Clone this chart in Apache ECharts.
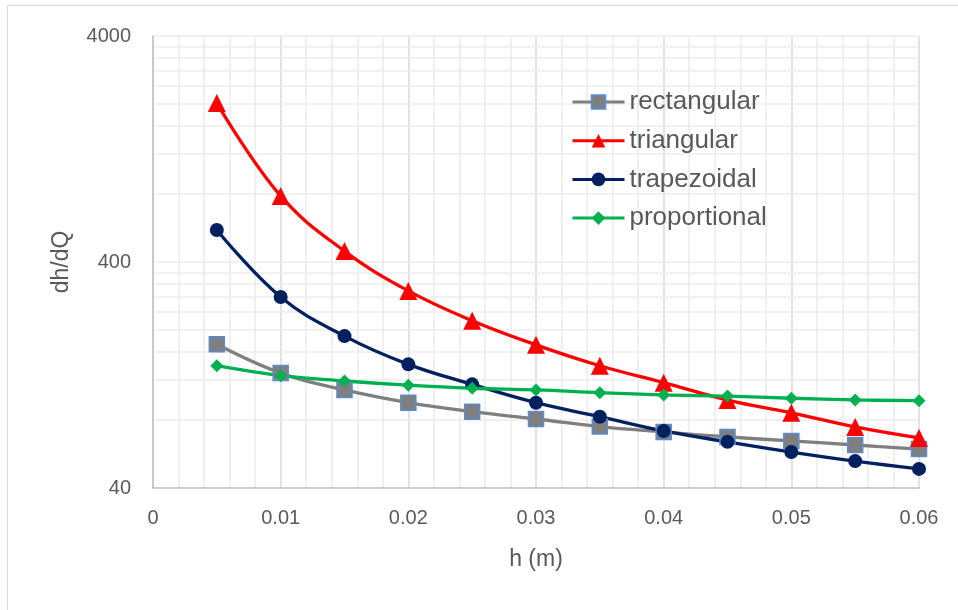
<!DOCTYPE html>
<html>
<head>
<meta charset="utf-8">
<script src="https://cdn.jsdelivr.net/npm/echarts@6/dist/echarts.min.js"></script>
<style>
  html, body { margin: 0; padding: 0; background: #fff; overflow: hidden; }
  #frame { position: absolute; left: 7px; top: 5px; width: 1000px; height: 700px; border: 1px solid #d9d9d9; }
  #chart { position: absolute; left: 0; top: 0; width: 958px; height: 610px; }
</style>
</head>
<body>
<div id="frame"></div>
<div id="chart"></div>
<script>
// ---- data ----
const hValues = [0.005, 0.01, 0.015, 0.02, 0.025, 0.03, 0.035, 0.04, 0.045, 0.05, 0.055, 0.06];
const rectangular = [173, 129, 108.6, 95.4, 87, 80.8, 74.8, 70.8, 67.3, 64.6, 62, 59.5];
const triangular = [2020, 784, 447, 298, 220, 172, 139, 117, 98, 86, 74.5, 66.6];
const trapezoidal = [554, 280, 188, 141, 115, 95.4, 82.7, 71.5, 64, 57.7, 52.6, 48.6];
const proportional = [139, 125.6, 119, 114, 110.5, 108.6, 105.6, 103.2, 102, 99.8, 98.1, 97.4];
const seriesNames = ['rectangular', 'triangular', 'trapezoidal', 'proportional'];
const yTickLabels = [40, 400, 4000];
const xTickLabels = [0, 0.01, 0.02, 0.03, 0.04, 0.05, 0.06];

// log-scale gridline values (2x..9x of each decade start, plus the top)
const yGridValues = [];
[40, 400].forEach(function (d) { for (let m = 2; m <= 10; m++) { yGridValues.push(d * m); } });

function pairs(vals) { return hValues.map(function (h, i) { return [h, vals[i]]; }); }

const FONT = "'Liberation Sans', Arial, sans-serif";
const chart = echarts.init(document.getElementById('chart'), null, { renderer: 'canvas' });

const option = {
  backgroundColor: 'transparent',
  animation: false,
  grid: { left: 153, right: 39, top: 36, bottom: 122, containLabel: false },
  legend: {
    data: seriesNames,
    orient: 'vertical',
    left: 566,
    top: 84,
    z: 20,
    itemWidth: 52,
    itemHeight: 17,
    itemGap: 12.7,
    lineStyle: { width: 3 },
    textStyle: { fontFamily: FONT, fontSize: 26, color: '#595959', lineHeight: 26 }
  },
  xAxis: {
    type: 'value',
    min: 0,
    max: 0.06,
    interval: 0.01,
    name: 'h (m)',
    nameLocation: 'middle',
    nameGap: 60,
    nameTextStyle: { fontFamily: FONT, fontSize: 23, color: '#595959' },
    axisLine: { show: true, lineStyle: { color: '#bfbfbf', width: 1.5 } },
    axisTick: { show: false },
    axisLabel: {
      margin: 20, fontFamily: FONT, fontSize: 20, color: '#595959',
      customValues: xTickLabels,
      formatter: function (v) { return String(v); }
    },
    splitLine: { show: true, lineStyle: { color: '#d9d9d9', width: 1.5 } },
    minorTick: { show: false, splitNumber: 5 },
    minorSplitLine: { show: true, lineStyle: { color: '#ececec', width: 1.5 } }
  },
  yAxis: {
    type: 'log',
    logBase: 10,
    min: 40,
    max: 4000,
    name: 'dh/dQ',
    nameLocation: 'middle',
    nameGap: 80,
    nameTextStyle: { fontFamily: FONT, fontSize: 23, color: '#595959' },
    axisLine: { show: true, lineStyle: { color: '#bfbfbf', width: 1.5 } },
    axisTick: { show: false },
    axisLabel: {
      margin: 22, fontFamily: FONT, fontSize: 20, color: '#595959',
      customValues: yTickLabels,
      formatter: function (v) { return String(Math.round(v)); }
    },
    splitLine: { show: false },
    minorSplitLine: { show: false }
  },
  series: [
    {
      name: '__grid',
      type: 'line',
      data: [],
      z: 0,
      zlevel: 0,
      silent: true,
      markLine: {
        silent: true,
        z: 0,
        symbol: ['none', 'none'],
        label: { show: false },
        emphasis: { disabled: true },
        lineStyle: { color: '#ececec', width: 1.5, type: 'solid' },
        data: yGridValues.map(function (v) { return { yAxis: v }; })
      }
    },
    {
      name: 'rectangular', type: 'line', smooth: 0.4, z: 3,
      data: pairs(rectangular),
      symbol: 'rect', symbolSize: 15,
      color: '#7f7f7f',
      lineStyle: { color: '#7f7f7f', width: 3.3 },
      itemStyle: { color: '#7f7f7f', borderColor: '#5b8bd0', borderWidth: 1.5 }
    },
    {
      name: 'triangular', type: 'line', smooth: 0.4, z: 3,
      data: pairs(triangular),
      symbol: 'triangle', symbolSize: 18,
      color: '#ff0000',
      lineStyle: { color: '#ff0000', width: 3.3 },
      itemStyle: { color: '#ff0000' }
    },
    {
      name: 'trapezoidal', type: 'line', smooth: 0.4, z: 3,
      data: pairs(trapezoidal),
      symbol: 'circle', symbolSize: 14,
      color: '#002060',
      lineStyle: { color: '#002060', width: 3.3 },
      itemStyle: { color: '#002060' }
    },
    {
      name: 'proportional', type: 'line', smooth: 0.4, z: 3,
      data: pairs(proportional),
      symbol: 'diamond', symbolSize: 13,
      color: '#00b050',
      lineStyle: { color: '#00b050', width: 3.3 },
      itemStyle: { color: '#00b050' }
    }
  ]
};
chart.setOption(option);
</script>
</body>
</html>
